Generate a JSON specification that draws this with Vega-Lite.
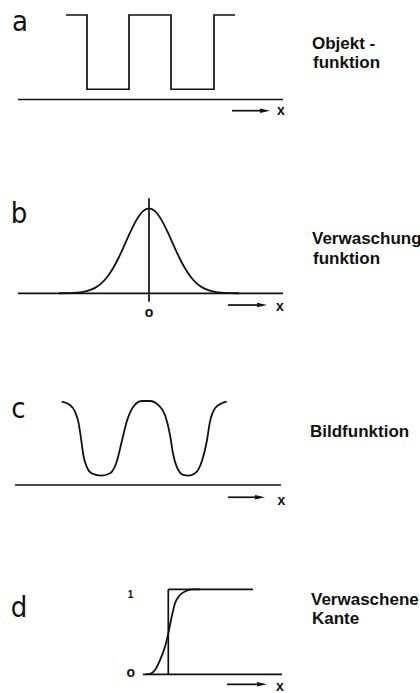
{
"$schema":"https://vega.github.io/schema/vega-lite/v6.json",
"padding":0,
"spacing":0,
"bounds":"flush",
"background":"white",
"config":{"view":{"stroke":null}},
"vconcat":[
{
 "width":420,"height":173,
 "data":{"values":[
  {"k":"lin","s":"w","i":0,"x":66,"y":1},
  {"k":"lin","s":"w","i":1,"x":87,"y":1},
  {"k":"lin","s":"w","i":2,"x":87,"y":0.121},
  {"k":"lin","s":"w","i":3,"x":129,"y":0.121},
  {"k":"lin","s":"w","i":4,"x":129,"y":1},
  {"k":"lin","s":"w","i":5,"x":171,"y":1},
  {"k":"lin","s":"w","i":6,"x":171,"y":0.121},
  {"k":"lin","s":"w","i":7,"x":214,"y":0.121},
  {"k":"lin","s":"w","i":8,"x":214,"y":1},
  {"k":"lin","s":"w","i":9,"x":235,"y":1},
  {"k":"lin","s":"b","i":0,"x":18,"y":0},
  {"k":"lin","s":"b","i":1,"x":283,"y":0},
  {"k":"lin","s":"r","i":0,"x":232,"y":-0.1325},
  {"k":"lin","s":"r","i":1,"x":261,"y":-0.1325},
  {"k":"head","x":265,"y":-0.1325},
  {"k":"letter","t":"a","x":20,"y":0.814},
  {"k":"desc","t":"Objekt -","x":312,"y":0.594},
  {"k":"desc","t":"funktion","x":313,"y":0.369},
  {"k":"small","t":"x","x":281,"y":-0.183}
 ]},
 "encoding":{
  "x":{"field":"x","type":"quantitative","scale":{"domain":[0,420],"nice":false,"zero":false},"axis":null},
  "y":{"field":"y","type":"quantitative","scale":{"domain":[-0.870,1.1775],"nice":false,"zero":false},"axis":null}
 },
 "layer":[
  {"transform":[{"filter":"datum.k==='lin'"}],"mark":{"type":"line","strokeWidth":1.7,"color":"#111"},"encoding":{"detail":{"field":"s"},"order":{"field":"i","type":"quantitative"}}},
  {"transform":[{"filter":"datum.k==='crv'"}],"mark":{"type":"line","strokeWidth":1.8,"interpolate":"monotone","color":"#111"},"encoding":{"detail":{"field":"s"}}},
  {"transform":[{"filter":"datum.k==='head'"}],"mark":{"type":"point","shape":"M-1,-0.45L1,0L-1,0.45Z","filled":true,"size":100,"color":"#111","opacity":1}},
  {"transform":[{"filter":"datum.k==='letter'"}],"mark":{"type":"text","font":"Liberation Sans Narrow, DejaVu Sans Condensed, Liberation Sans","fontSize":29,"align":"center","baseline":"alphabetic","color":"#111"},"encoding":{"text":{"field":"t"}}},
  {"transform":[{"filter":"datum.k==='desc'"}],"mark":{"type":"text","font":"Liberation Sans","fontWeight":"bold","fontSize":17,"align":"left","baseline":"alphabetic","color":"#111"},"encoding":{"text":{"field":"t"}}},
  {"transform":[{"filter":"datum.k==='small'"}],"mark":{"type":"text","font":"Liberation Sans","fontWeight":"bold","fontSize":14,"align":"center","baseline":"alphabetic","color":"#111"},"encoding":{"text":{"field":"t"}}}
 ]
},
{
 "width":420,"height":173,
 "data":{"values":[
  {"k":"lin","s":"b","i":0,"x":18,"y":0},
  {"k":"lin","s":"b","i":1,"x":283,"y":0},
  {"k":"lin","s":"v","i":0,"x":149,"y":1.118},
  {"k":"lin","s":"v","i":1,"x":149,"y":-0.099},
  {"k":"lin","s":"r","i":0,"x":228,"y":-0.138},
  {"k":"lin","s":"r","i":1,"x":258,"y":-0.138},
  {"k":"head","x":262,"y":-0.138},
  {"k":"crv","s":"g","x":59,"y":0.0005},
  {"k":"crv","s":"g","x":69,"y":0.0024},
  {"k":"crv","s":"g","x":77,"y":0.0074},
  {"k":"crv","s":"g","x":83,"y":0.0163},
  {"k":"crv","s":"g","x":89,"y":0.0333},
  {"k":"crv","s":"g","x":95,"y":0.0635},
  {"k":"crv","s":"g","x":101,"y":0.1133},
  {"k":"crv","s":"g","x":107,"y":0.1888},
  {"k":"crv","s":"g","x":113,"y":0.2938},
  {"k":"crv","s":"g","x":119,"y":0.4271},
  {"k":"crv","s":"g","x":125,"y":0.5802},
  {"k":"crv","s":"g","x":131,"y":0.7362},
  {"k":"crv","s":"g","x":137,"y":0.8727},
  {"k":"crv","s":"g","x":143,"y":0.9666},
  {"k":"crv","s":"g","x":149,"y":1},
  {"k":"crv","s":"g","x":155,"y":0.9666},
  {"k":"crv","s":"g","x":161,"y":0.8727},
  {"k":"crv","s":"g","x":167,"y":0.7362},
  {"k":"crv","s":"g","x":173,"y":0.5802},
  {"k":"crv","s":"g","x":179,"y":0.4271},
  {"k":"crv","s":"g","x":185,"y":0.2938},
  {"k":"crv","s":"g","x":191,"y":0.1888},
  {"k":"crv","s":"g","x":197,"y":0.1133},
  {"k":"crv","s":"g","x":203,"y":0.0635},
  {"k":"crv","s":"g","x":209,"y":0.0333},
  {"k":"crv","s":"g","x":215,"y":0.0163},
  {"k":"crv","s":"g","x":221,"y":0.0074},
  {"k":"crv","s":"g","x":229,"y":0.0024},
  {"k":"crv","s":"g","x":239,"y":0.0005},
  {"k":"letter","t":"b","x":19,"y":0.827},
  {"k":"desc","t":"Verwaschung","x":312,"y":0.574},
  {"k":"desc","t":"funktion","x":313,"y":0.341},
  {"k":"small","t":"o","x":149,"y":-0.275},
  {"k":"small","t":"x","x":280,"y":-0.208}
 ]},
 "encoding":{
  "x":{"field":"x","type":"quantitative","scale":{"domain":[0,420],"nice":false,"zero":false},"axis":null},
  "y":{"field":"y","type":"quantitative","scale":{"domain":[-0.620,1.415],"nice":false,"zero":false},"axis":null}
 },
 "layer":[
  {"transform":[{"filter":"datum.k==='lin'"}],"mark":{"type":"line","strokeWidth":1.7,"color":"#111"},"encoding":{"detail":{"field":"s"},"order":{"field":"i","type":"quantitative"}}},
  {"transform":[{"filter":"datum.k==='crv'"}],"mark":{"type":"line","strokeWidth":1.8,"interpolate":"monotone","color":"#111"},"encoding":{"detail":{"field":"s"}}},
  {"transform":[{"filter":"datum.k==='head'"}],"mark":{"type":"point","shape":"M-1,-0.45L1,0L-1,0.45Z","filled":true,"size":100,"color":"#111","opacity":1}},
  {"transform":[{"filter":"datum.k==='letter'"}],"mark":{"type":"text","font":"Liberation Sans Narrow, DejaVu Sans Condensed, Liberation Sans","fontSize":29,"align":"center","baseline":"alphabetic","color":"#111"},"encoding":{"text":{"field":"t"}}},
  {"transform":[{"filter":"datum.k==='desc'"}],"mark":{"type":"text","font":"Liberation Sans","fontWeight":"bold","fontSize":17,"align":"left","baseline":"alphabetic","color":"#111"},"encoding":{"text":{"field":"t"}}},
  {"transform":[{"filter":"datum.k==='small'"}],"mark":{"type":"text","font":"Liberation Sans","fontWeight":"bold","fontSize":14,"align":"center","baseline":"alphabetic","color":"#111"},"encoding":{"text":{"field":"t"}}}
 ]
},
{
 "width":420,"height":173,
 "data":{"values":[
  {"k":"lin","s":"b","i":0,"x":15,"y":0},
  {"k":"lin","s":"b","i":1,"x":281,"y":0},
  {"k":"lin","s":"r","i":0,"x":228,"y":-0.146},
  {"k":"lin","s":"r","i":1,"x":256,"y":-0.146},
  {"k":"head","x":260,"y":-0.146},
  {"k":"crv","s":"c","x":61.7,"y":0.992},
  {"k":"crv","s":"c","x":70,"y":0.952},
  {"k":"crv","s":"c","x":75,"y":0.873},
  {"k":"crv","s":"c","x":78.3,"y":0.754},
  {"k":"crv","s":"c","x":81,"y":0.556},
  {"k":"crv","s":"c","x":83.3,"y":0.357},
  {"k":"crv","s":"c","x":86.7,"y":0.218},
  {"k":"crv","s":"c","x":91.7,"y":0.139},
  {"k":"crv","s":"c","x":101.7,"y":0.111},
  {"k":"crv","s":"c","x":110,"y":0.139},
  {"k":"crv","s":"c","x":116.7,"y":0.277},
  {"k":"crv","s":"c","x":121.7,"y":0.515},
  {"k":"crv","s":"c","x":126.7,"y":0.754},
  {"k":"crv","s":"c","x":133.3,"y":0.932},
  {"k":"crv","s":"c","x":141.7,"y":1.0},
  {"k":"crv","s":"c","x":150,"y":1.0},
  {"k":"crv","s":"c","x":158.3,"y":0.952},
  {"k":"crv","s":"c","x":165,"y":0.833},
  {"k":"crv","s":"c","x":170,"y":0.595},
  {"k":"crv","s":"c","x":173.3,"y":0.357},
  {"k":"crv","s":"c","x":176.7,"y":0.218},
  {"k":"crv","s":"c","x":183.3,"y":0.119},
  {"k":"crv","s":"c","x":188.3,"y":0.111},
  {"k":"crv","s":"c","x":195,"y":0.139},
  {"k":"crv","s":"c","x":201.7,"y":0.277},
  {"k":"crv","s":"c","x":206.7,"y":0.515},
  {"k":"crv","s":"c","x":210,"y":0.754},
  {"k":"crv","s":"c","x":215,"y":0.913},
  {"k":"crv","s":"c","x":221.7,"y":0.973},
  {"k":"crv","s":"c","x":226.7,"y":0.992},
  {"k":"letter","t":"c","x":18.3,"y":0.798},
  {"k":"desc","t":"Bildfunktion","x":310,"y":0.575},
  {"k":"small","t":"x","x":281.5,"y":-0.238}
 ]},
 "encoding":{
  "x":{"field":"x","type":"quantitative","scale":{"domain":[0,420],"nice":false,"zero":false},"axis":null},
  "y":{"field":"y","type":"quantitative","scale":{"domain":[-0.405,1.655],"nice":false,"zero":false},"axis":null}
 },
 "layer":[
  {"transform":[{"filter":"datum.k==='lin'"}],"mark":{"type":"line","strokeWidth":1.7,"color":"#111"},"encoding":{"detail":{"field":"s"},"order":{"field":"i","type":"quantitative"}}},
  {"transform":[{"filter":"datum.k==='crv'"}],"mark":{"type":"line","strokeWidth":1.8,"interpolate":"monotone","color":"#111"},"encoding":{"detail":{"field":"s"}}},
  {"transform":[{"filter":"datum.k==='head'"}],"mark":{"type":"point","shape":"M-1,-0.45L1,0L-1,0.45Z","filled":true,"size":100,"color":"#111","opacity":1}},
  {"transform":[{"filter":"datum.k==='letter'"}],"mark":{"type":"text","font":"Liberation Sans Narrow, DejaVu Sans Condensed, Liberation Sans","fontSize":29,"align":"center","baseline":"alphabetic","color":"#111"},"encoding":{"text":{"field":"t"}}},
  {"transform":[{"filter":"datum.k==='desc'"}],"mark":{"type":"text","font":"Liberation Sans","fontWeight":"bold","fontSize":17,"align":"left","baseline":"alphabetic","color":"#111"},"encoding":{"text":{"field":"t"}}},
  {"transform":[{"filter":"datum.k==='small'"}],"mark":{"type":"text","font":"Liberation Sans","fontWeight":"bold","fontSize":14,"align":"center","baseline":"alphabetic","color":"#111"},"encoding":{"text":{"field":"t"}}}
 ]
},
{
 "width":420,"height":173,
 "data":{"values":[
  {"k":"lin","s":"b","i":0,"x":143,"y":0},
  {"k":"lin","s":"b","i":1,"x":282,"y":0},
  {"k":"lin","s":"t","i":0,"x":168.3,"y":1},
  {"k":"lin","s":"t","i":1,"x":253,"y":1},
  {"k":"lin","s":"v","i":0,"x":168.3,"y":0},
  {"k":"lin","s":"v","i":1,"x":168.3,"y":1},
  {"k":"lin","s":"r","i":0,"x":227,"y":-0.118},
  {"k":"lin","s":"r","i":1,"x":257,"y":-0.118},
  {"k":"head","x":262,"y":-0.118},
  {"k":"crv","s":"e","x":146,"y":0},
  {"k":"crv","s":"e","x":150,"y":0.005},
  {"k":"crv","s":"e","x":155,"y":0.051},
  {"k":"crv","s":"e","x":160,"y":0.168},
  {"k":"crv","s":"e","x":165,"y":0.325},
  {"k":"crv","s":"e","x":168.3,"y":0.482},
  {"k":"crv","s":"e","x":171.7,"y":0.678},
  {"k":"crv","s":"e","x":175,"y":0.835},
  {"k":"crv","s":"e","x":180,"y":0.933},
  {"k":"crv","s":"e","x":186.7,"y":0.984},
  {"k":"crv","s":"e","x":193.3,"y":1},
  {"k":"crv","s":"e","x":200,"y":1},
  {"k":"letter","t":"d","x":19,"y":0.674},
  {"k":"tiny","t":"1","x":130.5,"y":0.898},
  {"k":"small","t":"o","x":130.8,"y":-0.032},
  {"k":"small","t":"x","x":280,"y":-0.193},
  {"k":"desc","t":"Verwaschene","x":311,"y":0.815},
  {"k":"desc","t":"Kante","x":312,"y":0.588}
 ]},
 "encoding":{
  "x":{"field":"x","type":"quantitative","scale":{"domain":[0,420],"nice":false,"zero":false},"axis":null},
  "y":{"field":"y","type":"quantitative","scale":{"domain":[-0.208,1.827],"nice":false,"zero":false},"axis":null}
 },
 "layer":[
  {"transform":[{"filter":"datum.k==='lin'"}],"mark":{"type":"line","strokeWidth":1.7,"color":"#111"},"encoding":{"detail":{"field":"s"},"order":{"field":"i","type":"quantitative"}}},
  {"transform":[{"filter":"datum.k==='crv'"}],"mark":{"type":"line","strokeWidth":1.8,"interpolate":"monotone","color":"#111"},"encoding":{"detail":{"field":"s"}}},
  {"transform":[{"filter":"datum.k==='head'"}],"mark":{"type":"point","shape":"M-1,-0.45L1,0L-1,0.45Z","filled":true,"size":100,"color":"#111","opacity":1}},
  {"transform":[{"filter":"datum.k==='letter'"}],"mark":{"type":"text","font":"Liberation Sans Narrow, DejaVu Sans Condensed, Liberation Sans","fontSize":29,"align":"center","baseline":"alphabetic","color":"#111"},"encoding":{"text":{"field":"t"}}},
  {"transform":[{"filter":"datum.k==='desc'"}],"mark":{"type":"text","font":"Liberation Sans","fontWeight":"bold","fontSize":17,"align":"left","baseline":"alphabetic","color":"#111"},"encoding":{"text":{"field":"t"}}},
  {"transform":[{"filter":"datum.k==='small'"}],"mark":{"type":"text","font":"Liberation Sans","fontWeight":"bold","fontSize":14,"align":"center","baseline":"alphabetic","color":"#111"},"encoding":{"text":{"field":"t"}}},
  {"transform":[{"filter":"datum.k==='tiny'"}],"mark":{"type":"text","font":"Liberation Sans","fontWeight":"bold","fontSize":10,"align":"center","baseline":"alphabetic","color":"#111"},"encoding":{"text":{"field":"t"}}}
 ]
}
]
}
